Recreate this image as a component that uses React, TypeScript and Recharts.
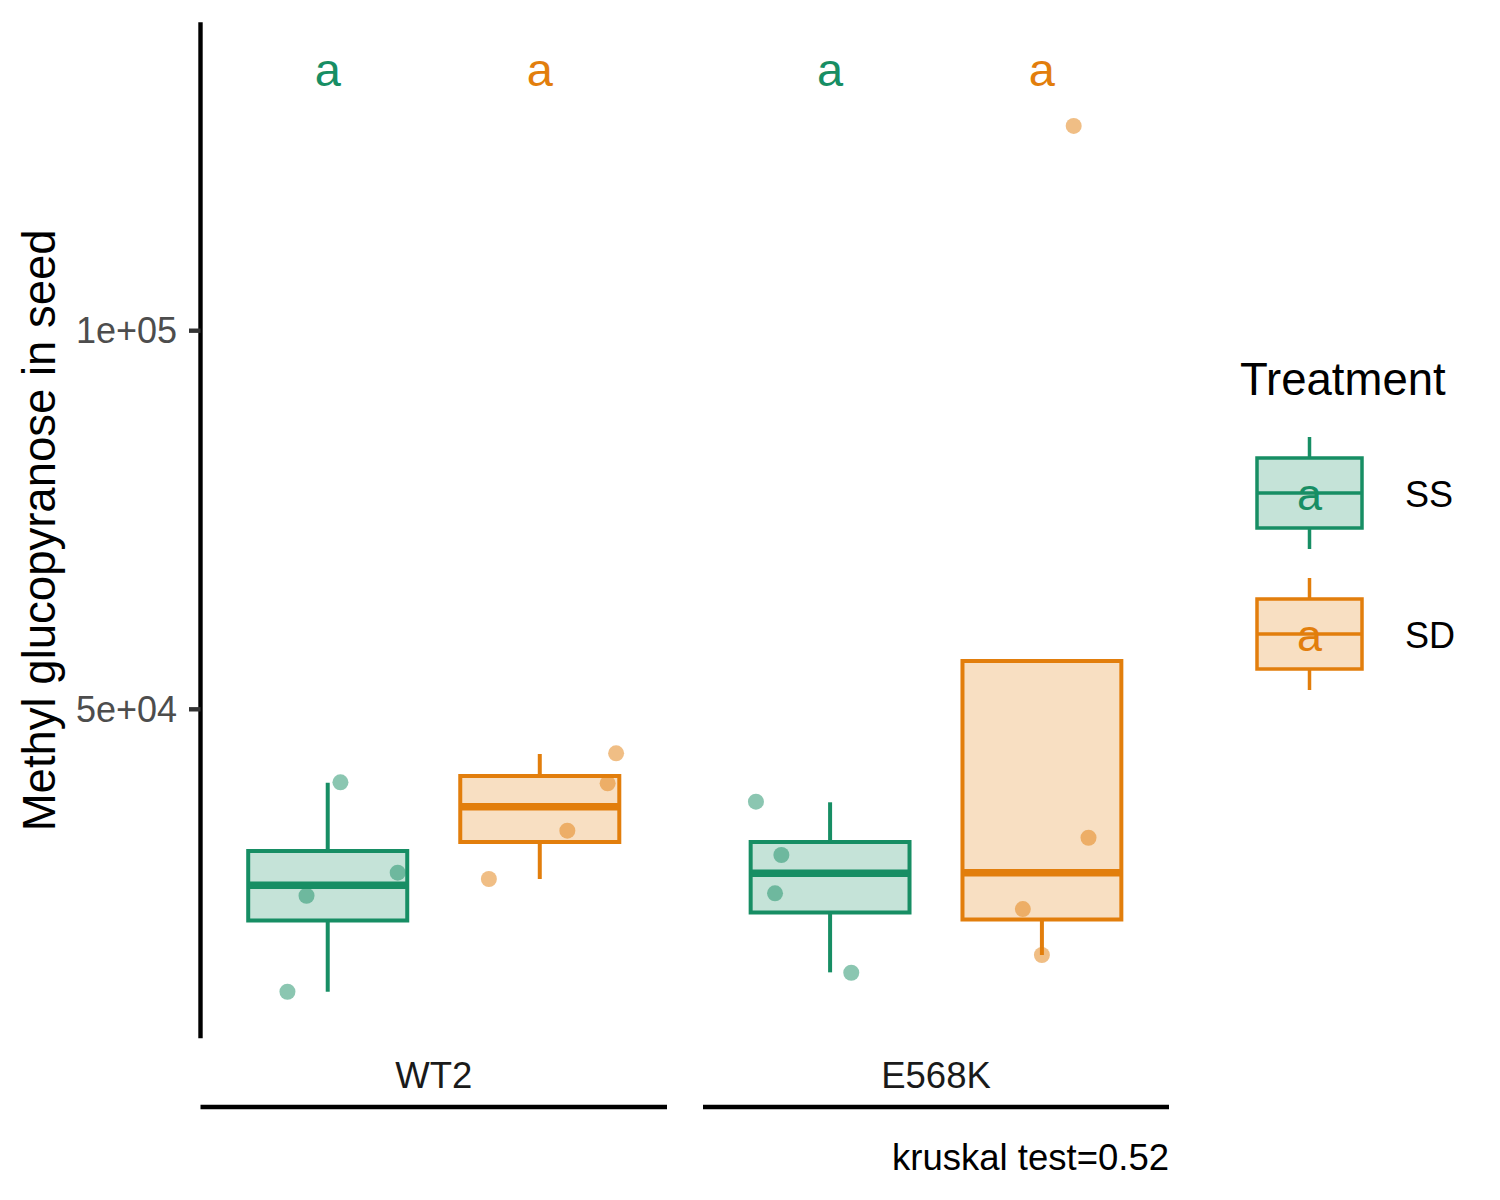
import React from 'react';
import {
  ComposedChart,
  XAxis,
  YAxis,
  Scatter,
  ReferenceArea,
  ReferenceLine,
  Label,
} from 'recharts';

const genotypes = ['WT2', 'E568K'];
const treatments = ['SS', 'SD'];

// box statistics, indexed [genotype][treatment]
const whiskerLow = [[12700, 27590], [15260, 17550]];
const hingeLow = [[22100, 32470], [23160, 22240]];
const medians = [[26760, 37140], [28340, 28420]];
const hingeHigh = [[31280, 41190], [32470, 56380]];
const whiskerHigh = [[40300, 44100], [37720, 56380]];

// raw observations, same nesting
const observations = [
  [[40350, 25380, 28420, 12700], [44190, 40220, 33970, 27590]],
  [[37800, 30760, 25700, 15210], [33040, 23620, 17550, 127040]],
];
// horizontal jitter of each observation, in category units
const jitter = [
  [[0.06, -0.1, 0.33, -0.19], [0.36, 0.32, 0.13, -0.24]],
  [[-0.35, -0.23, -0.26, 0.1], [0.22, -0.09, 0.0, 0.15]],
];

// compact letter display above each box
const letters = [['a', 'a'], ['a', 'a']];
const letterY = 133900;
const kruskalP = 0.52;

const yTicks = [50000, 100000];
const yDomain = [6550, 140730];

const COLORS = ['#178E64', '#E27E0C'];
const FONT = '"Liberation Sans", Arial, Helvetica, sans-serif';
const BOX_HALF = 0.375;

// R style scientific labels: 5e+04, 1e+05
const sci = (v: number) => v.toExponential(0).replace(/e([+-])(\d)$/, 'e$10$2');

function YTitle(props: any) {
  const vb = props.viewBox ?? { x: 0, y: 22.3, width: 200.5, height: 1016 };
  const x = vb.x + 55;
  const y = vb.y + vb.height / 2;
  return (
    <text
      x={x}
      y={y}
      transform={`rotate(-90 ${x} ${y})`}
      textAnchor="middle"
      fontSize={45.5}
      fill="#000"
    >
      Methyl glucopyranose in seed
    </text>
  );
}

function KruskalNote(props: any) {
  const vb = props.viewBox ?? { x: 703, y: 1107, width: 466, height: 93 };
  return (
    <text x={vb.x + vb.width} y={vb.y + 63} textAnchor="end" fontSize={36.5} fill="#000">
      {`kruskal test=${kruskalP}`}
    </text>
  );
}

function Facet({ gi, showY }: { gi: number; showY: boolean }) {
  const marks: React.ReactNode[] = [];

  treatments.forEach((t, ti) => {
    const cx = ti + 1;
    const c = COLORS[ti];
    if (whiskerHigh[gi][ti] > hingeHigh[gi][ti]) {
      marks.push(
        <ReferenceLine
          key={`wh-${t}`}
          segment={[
            { x: cx, y: hingeHigh[gi][ti] },
            { x: cx, y: whiskerHigh[gi][ti] },
          ]}
          stroke={c}
          strokeWidth={4}
        />
      );
    }
    if (whiskerLow[gi][ti] < hingeLow[gi][ti]) {
      marks.push(
        <ReferenceLine
          key={`wl-${t}`}
          segment={[
            { x: cx, y: whiskerLow[gi][ti] },
            { x: cx, y: hingeLow[gi][ti] },
          ]}
          stroke={c}
          strokeWidth={4}
        />
      );
    }
    marks.push(
      <ReferenceArea
        key={`box-${t}`}
        x1={cx - BOX_HALF}
        x2={cx + BOX_HALF}
        y1={hingeLow[gi][ti]}
        y2={hingeHigh[gi][ti]}
        fill={c}
        fillOpacity={0.25}
        stroke={c}
        strokeWidth={4}
      />
    );
    marks.push(
      <ReferenceLine
        key={`med-${t}`}
        segment={[
          { x: cx - BOX_HALF, y: medians[gi][ti] },
          { x: cx + BOX_HALF, y: medians[gi][ti] },
        ]}
        stroke={c}
        strokeWidth={7.5}
      />
    );
  });

  const letterData = treatments.map((t, ti) => ({
    x: ti + 1,
    y: letterY,
    label: letters[gi][ti],
    ti,
  }));

  return (
    <ComposedChart
      width={showY ? 667 : 466}
      height={1200}
      margin={{ top: 22.3, right: 0, bottom: 0, left: 0 }}
    >
      <XAxis
        dataKey="x"
        type="number"
        domain={[0.4, 2.6]}
        allowDataOverflow
        ticks={[1.5]}
        tickFormatter={() => genotypes[gi]}
        axisLine={false}
        tickLine={false}
        tickSize={0}
        tickMargin={24}
        height={68.7}
        tick={{ fill: '#1A1A1A', fontSize: 36.5 }}
      />
      <XAxis
        xAxisId="strip"
        type="number"
        domain={[0.4, 2.6]}
        allowDataOverflow
        tick={false}
        tickLine={false}
        axisLine={{ stroke: '#000', strokeWidth: 4.4 }}
        height={93}
      >
        {gi === genotypes.length - 1 && <Label content={<KruskalNote />} />}
      </XAxis>
      <YAxis
        dataKey="y"
        type="number"
        domain={yDomain}
        allowDataOverflow
        ticks={yTicks}
        tickFormatter={sci}
        hide={!showY}
        width={200.5}
        tickSize={11.5}
        tickMargin={12}
        tickLine={{ stroke: '#333', strokeWidth: 4.4 }}
        axisLine={{ stroke: '#000', strokeWidth: 4.4 }}
        tick={{ fill: '#4D4D4D', fontSize: 36 }}
      >
        {showY && <Label content={<YTitle />} />}
      </YAxis>

      {marks}

      {treatments.map((t, ti) => (
        <Scatter
          key={`pts-${t}`}
          name={t}
          data={observations[gi][ti].map((v, k) => ({ x: ti + 1 + jitter[gi][ti][k], y: v }))}
          isAnimationActive={false}
          shape={(p: any) => (
            <circle cx={p.cx} cy={p.cy} r={8} fill={COLORS[ti]} fillOpacity={0.5} />
          )}
        />
      ))}

      <Scatter
        name="letters"
        data={letterData}
        isAnimationActive={false}
        shape={(p: any) => (
          <text
            x={p.cx}
            y={p.cy}
            dy="0.26em"
            textAnchor="middle"
            fontSize={47}
            fill={COLORS[p.payload.ti]}
          >
            {p.payload.label}
          </text>
        )}
      />
    </ComposedChart>
  );
}

function TreatmentKey() {
  return (
    <svg
      width={1500}
      height={1200}
      style={{ position: 'absolute', left: 0, top: 0, pointerEvents: 'none' }}
    >
      <text x={1240} y={395} fontSize={45.5} fill="#000">
        Treatment
      </text>
      {treatments.map((t, ti) => {
        const cy = 493 + ti * 141;
        const c = COLORS[ti];
        return (
          <g key={t}>
            <line x1={1309.5} x2={1309.5} y1={cy - 56} y2={cy - 35} stroke={c} strokeWidth={3.5} />
            <line x1={1309.5} x2={1309.5} y1={cy + 35} y2={cy + 56} stroke={c} strokeWidth={3.5} />
            <rect
              x={1257}
              y={cy - 35}
              width={105}
              height={70}
              fill={c}
              fillOpacity={0.25}
              stroke={c}
              strokeWidth={3.5}
            />
            <line x1={1257} x2={1362} y1={cy} y2={cy} stroke={c} strokeWidth={3.5} />
            <text x={1309.5} y={cy + 17} textAnchor="middle" fontSize={45} fill={c}>
              {letters[0][ti]}
            </text>
            <text x={1405} y={cy + 14} fontSize={36} fill="#000">
              {t}
            </text>
          </g>
        );
      })}
    </svg>
  );
}

export default function App() {
  return (
    <div
      style={{
        position: 'absolute',
        left: 0,
        top: 0,
        width: 1500,
        height: 1200,
        background: '#fff',
        fontFamily: FONT,
      }}
    >
      <div style={{ position: 'absolute', left: 0, top: 0 }}>
        <Facet gi={0} showY />
      </div>
      <div style={{ position: 'absolute', left: 703, top: 0 }}>
        <Facet gi={1} showY={false} />
      </div>
      <TreatmentKey />
    </div>
  );
}
